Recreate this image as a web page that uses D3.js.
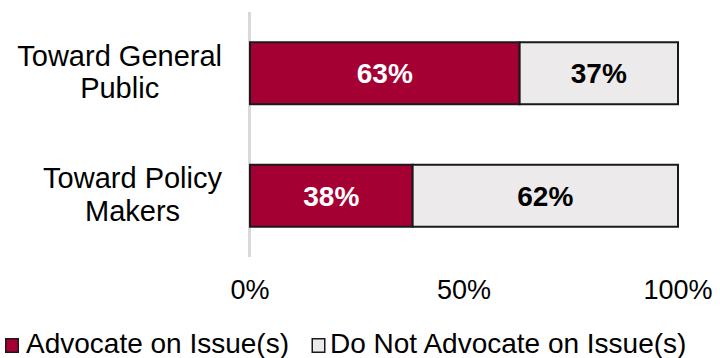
<!DOCTYPE html>
<html><head><meta charset="utf-8">
<script src="https://cdn.jsdelivr.net/npm/d3@7"></script>
<style>body{margin:0;background:#fff}svg{display:block}text{font-family:"Liberation Sans",Arial,sans-serif}</style>
</head><body>
<svg id="c" width="720" height="358"></svg>
<script>
const categories = [["Toward General","Public"],["Toward Policy","Makers"]];
const advocate = [63, 38];
const notAdvocate = [37, 62];
const tickValues = [0, 50, 100];
const seriesNames = ["Advocate on Issue(s)", "Do Not Advocate on Issue(s)"];
const colors = ["#A50034", "#ECEAEA"];

const svg = d3.select("#c");
const x = d3.scaleLinear().domain([0,100]).range([250,678]);
const y = d3.scaleBand().domain(d3.range(categories.length)).range([12,257]).paddingInner(0.494).paddingOuter(0.247);

// axis line
svg.append("line").attr("x1",249.5).attr("x2",249.5).attr("y1",12).attr("y2",257)
  .attr("stroke","#D9D9D9").attr("stroke-width",3);

const stacked = categories.map((c,i)=>[
  {s:0,x0:0,x1:advocate[i],v:advocate[i],i},
  {s:1,x0:advocate[i],x1:advocate[i]+notAdvocate[i],v:notAdvocate[i],i}
]).flat();

svg.selectAll("rect.bar").data(stacked).join("rect").attr("class","bar")
  .attr("x",d=>x(d.x0)).attr("width",d=>x(d.x1)-x(d.x0))
  .attr("y",d=>y(d.i)).attr("height",y.bandwidth())
  .attr("fill",d=>colors[d.s]).attr("stroke","#1a1a1a").attr("stroke-width",2);

svg.selectAll("text.val").data(stacked).join("text").attr("class","val")
  .attr("x",d=>(x(d.x0)+x(d.x1))/2).attr("y",d=>y(d.i)+y.bandwidth()/2+10)
  .attr("text-anchor","middle").attr("font-size",28).attr("font-weight","bold")
  .attr("fill",d=>d.s===0?"#fff":"#000").text(d=>d.v+"%");

// category labels
categories.forEach((lines,i)=>{
  const g = svg.append("g");
  const cy = y(i)+y.bandwidth()/2;
  const ts = lines.map((l,k)=>g.append("text").attr("font-size",29).attr("fill","#000")
     .attr("y",cy - 7.5 + k*32.5).text(l));
  const maxW = d3.max(ts,t=>t.node().getComputedTextLength());
  ts.forEach(t=>t.attr("text-anchor","middle").attr("x",222-maxW/2));
});

// x ticks
svg.selectAll("text.tick").data(tickValues).join("text").attr("class","tick")
  .attr("x",d=>x(d)).attr("y",299).attr("text-anchor","middle")
  .attr("font-size",27).attr("fill","#000").text(d=>d+"%");

// legend
const leg = [{x:5,tx:26},{x:311.5,tx:330}];
leg.forEach((l,i)=>{
  svg.append("rect").attr("x",l.x+0.75).attr("y",338.75).attr("width",12.5).attr("height",13.5)
    .attr("fill",colors[i]).attr("stroke","#1a1a1a").attr("stroke-width",1.5);
  svg.append("text").attr("x",l.tx).attr("y",353).attr("font-size",28)
    .attr("fill","#000").text(seriesNames[i]);
});
</script>
</body></html>
